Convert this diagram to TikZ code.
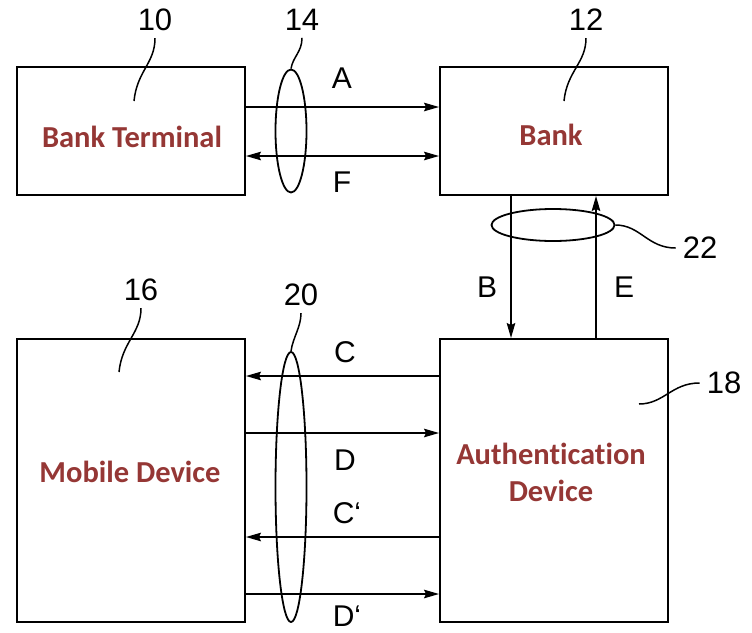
\documentclass[tikz,border=0pt]{standalone}
\usepackage{fontspec}
\setmainfont{Liberation Sans}
\newfontfamily\boxfont{Carlito}[Ligatures={NoCommon}]
\usetikzlibrary{arrows.meta,shapes.geometric,calc}
\definecolor{boxred}{RGB}{149,55,53}
\begin{document}
\begin{tikzpicture}[x=1pt,y=-1pt,
  box/.style={draw, line width=1.9pt, rectangle, inner sep=0pt, minimum width=228pt},
  boxtext/.style={font=\boxfont\bfseries\fontsize{30.5}{37}\selectfont, text=boxred, align=center, inner sep=0pt},
  num/.style={font=\fontsize{31}{36}\selectfont, inner sep=7pt},
  sig/.style={font=\fontsize{30}{34}\selectfont, inner sep=0pt},
  tip/.tip={Stealth[length=15pt,width=8.5pt,inset=2pt]},
  arr/.style={line width=1.8pt, -tip},
  arrboth/.style={line width=1.8pt, tip-tip},
  loop/.style={draw, ellipse, line width=1.8pt, inner sep=0pt},
  lead/.style={line width=1.5pt}]
\useasboundingbox (0,0) rectangle (752,632);

% boxes
\node[box, minimum height=128pt] (bt) at (131,131) {};
\node[box, minimum height=128pt] (bank) at (554,131) {};
\node[box, minimum height=283pt] (mob) at (131,480.5) {};
\node[box, minimum height=283pt] (auth) at (554,480.5) {};

% box texts
\node[boxtext] (tbt) at (132,137) {Bank Terminal};
\node[boxtext] (tbank) at (551,135) {Bank};
\node[boxtext] (tmob) at (130,472) {Mobile Device};
\node[boxtext] (tauth) at (551,472.5) {Authentication\\Device};

% horizontal arrow levels
\coordinate (yA) at (0,107);
\coordinate (yF) at (0,156);
\coordinate (yC) at (0,376);
\coordinate (yD) at (0,433);
\coordinate (yC2) at (0,537);
\coordinate (yD2) at (0,594);
\coordinate (xB) at (511,0);
\coordinate (xE) at (596,0);

\draw[arr] (bt.east |- yA) -- (bank.west |- yA);
\draw[arrboth] (bt.east |- yF) -- (bank.west |- yF);
\draw[arr] (auth.west |- yC) -- (mob.east |- yC);
\draw[arr] (mob.east |- yD) -- (auth.west |- yD);
\draw[arr] (auth.west |- yC2) -- (mob.east |- yC2);
\draw[arr] (mob.east |- yD2) -- (auth.west |- yD2);
\draw[arr] (bank.south -| xB) -- (auth.north -| xB);
\draw[arr] (auth.north -| xE) -- (bank.south -| xE);

% bundles
\node[loop, minimum width=31pt, minimum height=123pt] (e14) at (291,131) {};
\node[loop, minimum width=123pt, minimum height=32pt] (e22) at (553,225) {};
\node[loop, minimum width=31pt, minimum height=270pt] (e20) at (291,487) {};

% signal labels
\node[sig] (lA) at (342,78) {A};
\node[sig] (lF) at (342,182) {F};
\node[sig] (lB) at (487,287) {B};
\node[sig] (lE) at (624,287) {E};
\node[sig] (lC) at (345,352) {C};
\node[sig] (lD) at (345,460) {D};
\node[sig] (lC2) at (347,513) {C‘};
\node[sig] (lD2) at (347,616) {D‘};

% reference numbers
\node[num] (n10) at (155,20) {10};
\node[num] (n14) at (302,20) {14};
\node[num] (n12) at (586,20) {12};
\node[num] (n16) at (141,290) {16};
\node[num] (n20) at (301,295) {20};
\node[num] (n22) at (700,248) {22};
\node[num] (n18) at (724,383) {18};

% leader lines
\coordinate (c10) at (134,101);
\coordinate (c12) at (564,101);
\coordinate (c16) at (119,372);
\coordinate (c18) at (639,404);
\draw[lead] (n10.south) .. controls +(0,25) and +(3,-30) .. (c10);
\draw[lead] (n12.south) .. controls +(0,25) and +(3,-30) .. (c12);
\draw[lead] (n16.south) .. controls +(0,25) and +(3,-30) .. (c16);
\draw[lead] (n14.south) .. controls +(0,14) and +(2,-12) .. (e14.north);
\draw[lead] (n20.south) .. controls +(0,14) and +(2,-14) .. (e20.north);
\draw[lead] (e22.east) .. controls +(25,0) and +(-28,0) .. (n22.west);
\draw[lead] (n18.west) .. controls +(-28,0) and +(25,0) .. (c18);
\end{tikzpicture}
\end{document}
